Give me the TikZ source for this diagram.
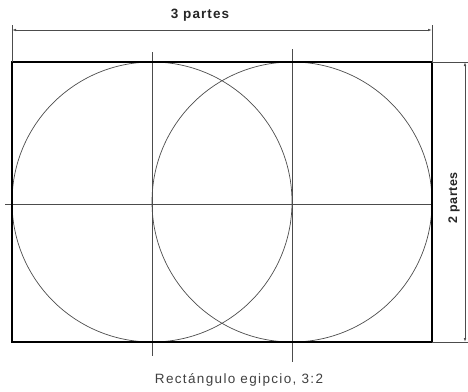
\documentclass[tikz,border=0pt]{standalone}
\usepackage{fontspec}
\setmainfont{Liberation Sans}
\usetikzlibrary{arrows.meta}
\begin{document}
\begin{tikzpicture}[x=1pt,y=-1pt,
  thinline/.style={draw=black!70,line width=0.7pt},
  frame/.style={draw=black,line width=1.6pt},
  dimline/.style={draw=black!70,line width=0.7pt,{Latex[length=4pt,width=2.5pt]}-{Latex[length=4pt,width=2.5pt]}},
  lbl/.style={font=\fontsize{13.5}{15}\selectfont\bfseries\addfontfeatures{LetterSpace=8},text=black!85,inner sep=0pt},
  lblside/.style={font=\fontsize{12.5}{14}\selectfont\bfseries\addfontfeatures{LetterSpace=5},text=black!85,inner sep=0pt},
  captext/.style={font=\fontsize{13.5}{15}\selectfont\addfontfeatures{LetterSpace=10},text=black!75,inner sep=0pt}]
\useasboundingbox (0,0) rectangle (468,391);
\coordinate (TL) at (12,62);
\coordinate (BR) at (432,342);
\coordinate (C1) at (152,202);
\coordinate (C2) at (292,202);
% circles
\draw[thinline] (C1) circle (140);
\draw[thinline] (C2) circle (140);
% axes
\draw[thinline] (152,52) -- (152,356);
\draw[thinline] (292,49) -- (292,362);
\draw[thinline] (5,204) -- (432,204);
% rectangle
\draw[frame] (TL) rectangle (BR);
% top dimension
\coordinate (e1) at (12,25);
\coordinate (e2) at (432,25);
\draw[thinline] (e1) -- (TL);
\draw[thinline] (e2) -- (432,62);
\draw[dimline] (12,30) -- (432,30);
\node[lbl] (t3) at (200,15) {3 partes};
% right dimension
\draw[thinline] (432,62) -- (468,62);
\draw[thinline] (BR) -- (468,342);
\draw[dimline] (465,62) -- (465,342);
\node[lblside,rotate=90] (t2) at (454,198) {2 partes};
% caption
\node[captext] (captxt) at (239,380) {Rectángulo egipcio, 3:2};
\end{tikzpicture}
\end{document}
